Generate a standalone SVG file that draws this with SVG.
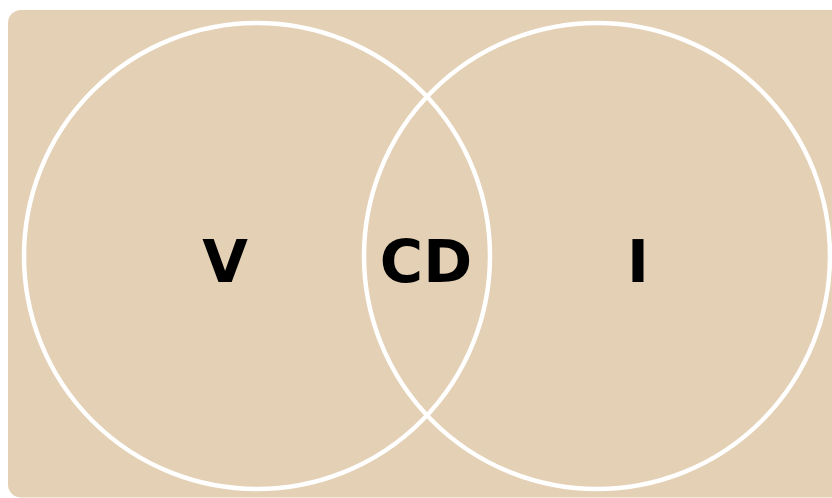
<svg xmlns="http://www.w3.org/2000/svg" width="832" height="498" viewBox="0 0 832 498">
<style>
.c{fill:none;stroke:#ffffff;stroke-width:4.5}
.t{font-family:"DejaVu Sans","Liberation Sans",sans-serif;font-weight:bold;font-size:59px;fill:#000;text-anchor:middle}
</style>
<rect x="0" y="0" width="832" height="498" fill="#ffffff"/>
<rect x="8" y="10" width="840" height="487.5" rx="13" fill="#E3D0B5"/>
<g id="left"><circle class="c" cx="257" cy="256" r="233"/><text class="t" x="225" y="282">V</text></g>
<g id="right"><circle class="c" cx="597" cy="256" r="233"/><text class="t" x="638" y="282">I</text></g>
<g id="center"><text class="t" x="426" y="282">CD</text></g>
<g id="connectors"></g>
</svg>
